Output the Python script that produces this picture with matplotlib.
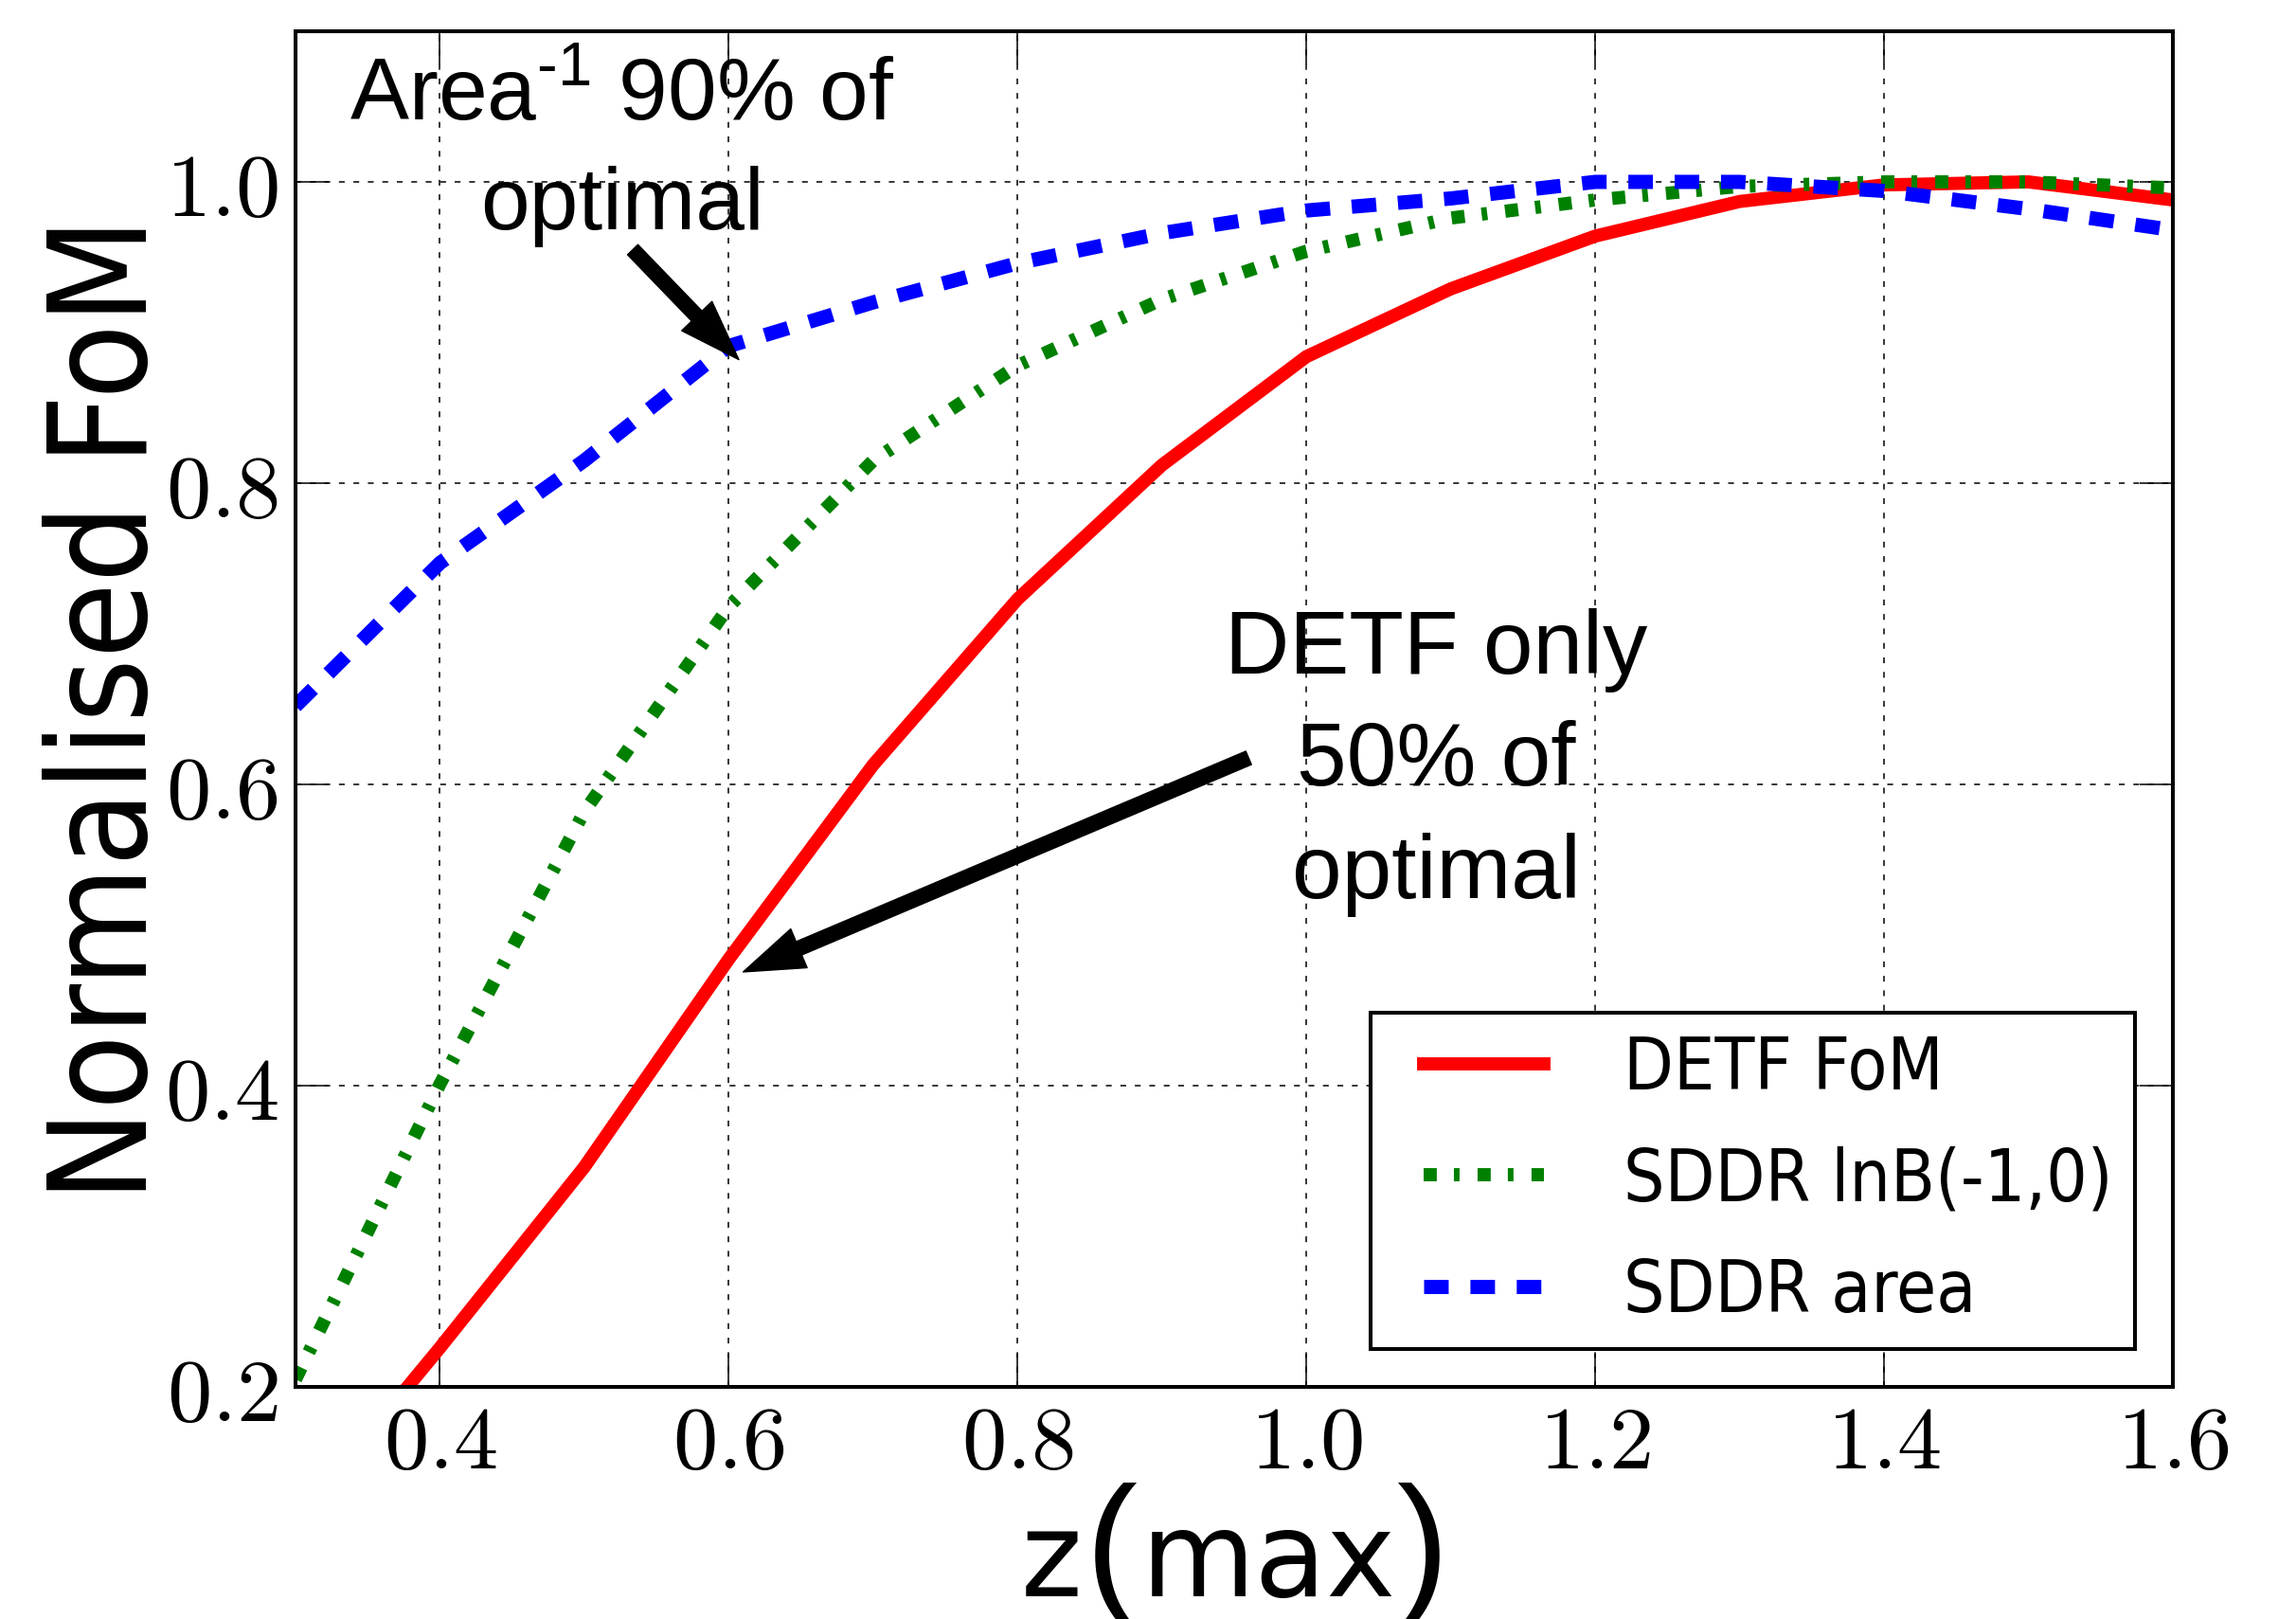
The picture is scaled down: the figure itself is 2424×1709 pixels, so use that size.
import matplotlib
matplotlib.use("Agg")
import matplotlib.pyplot as plt
from matplotlib.ticker import FuncFormatter
from matplotlib.font_manager import FontProperties
from matplotlib.legend_handler import HandlerLine2D

# data
zmax = [0.3, 0.4, 0.5, 0.6, 0.7, 0.8, 0.9, 1.0, 1.1, 1.2, 1.3, 1.4, 1.5, 1.6]
detf_fom = [0.11, 0.226, 0.346, 0.484, 0.613, 0.723, 0.812, 0.884, 0.929, 0.964, 0.987, 0.998, 1.0, 0.988]
sddr_lnb = [0.205, 0.401, 0.582, 0.718, 0.815, 0.878, 0.922, 0.954, 0.976, 0.988, 0.997, 1.0, 1.0, 0.996]
sddr_area = [0.652, 0.747, 0.815, 0.891, 0.920, 0.946, 0.966, 0.981, 0.989, 1.0, 1.0, 0.994, 0.982, 0.968]

xticks = [0.4, 0.6, 0.8, 1.0, 1.2, 1.4, 1.6]
yticks = [0.2, 0.4, 0.6, 0.8, 1.0]

plt.rcParams['mathtext.fontset'] = 'cm'
plt.rcParams['mathtext.rm'] = 'Liberation Sans'

cond = dict(family='DejaVu Sans', stretch='condensed')
W, H = 2424, 1709

fig = plt.figure(figsize=(W / 100, H / 100), dpi=100)
ax = fig.add_axes([312 / W, 1 - 1464 / H, (2294 - 312) / W, (1464 - 33) / H])

ax.plot(zmax, detf_fom, color='#ff0000', lw=10, label='DETF FoM')
ax.plot(zmax, sddr_lnb, color='#008000', lw=10, dashes=(1.0, 1.3, 0.43, 1.37),
        dash_capstyle='butt', label='SDDR lnB(-1,0)')
ax.plot(zmax, sddr_area, color='#0000ff', lw=10.8, dashes=(1.73, 1.53),
        dash_capstyle='butt', label='SDDR area')

ax.set_xlim(0.3, 1.6)
ax.set_ylim(0.2, 1.1)
ax.set_xticks(xticks)
ax.set_yticks(yticks)
fmt = FuncFormatter(lambda v, p: '$%.1f$' % v)
ax.xaxis.set_major_formatter(fmt)
ax.yaxis.set_major_formatter(fmt)
ax.tick_params(direction='in', length=25, width=1.1, labelsize=68,
               top=True, right=True)
ax.tick_params(axis='x', pad=10)
ax.tick_params(axis='y', pad=13)
ax.grid(True, color='black', lw=1.1, linestyle=(0, (4, 6)))
for s in ax.spines.values():
    s.set_linewidth(2.9)

ax.set_ylabel('Normalised FoM', fontsize=104, **cond)
ax.yaxis.set_label_coords(-0.064, 0.5)

# x label: z(max) with tall brackets
ybase = (H - 1685) / H
fig.text(1078 / W, ybase, 'z', fontsize=89, va='baseline', family='DejaVu Sans')
fig.text(1146 / W, ybase, '(', fontsize=119, va='baseline', family='Liberation Sans')
fig.text(1205 / W, ybase, 'max', fontsize=89, va='baseline', family='DejaVu Sans')
fig.text(1474 / W, ybase, ')', fontsize=119, va='baseline', family='Liberation Sans')

arrow = dict(facecolor='black', edgecolor='black', width=11, headwidth=32,
             headlength=46, shrink=0)
ax.annotate('', xy=(0.607, 0.882), xytext=(0.5335, 0.955), arrowprops=arrow)
ax.annotate('', xy=(0.610, 0.4755), xytext=(0.960, 0.6176), arrowprops=arrow)

ax.text(0.5263, 1.020, 'Area$^{\u2010\\mathrm{1}}$ 90% of\noptimal', ha='center', va='center',
        fontsize=67, linespacing=1.43, family='Liberation Sans', math_fontfamily='custom')
ax.text(1.09, 0.6145, 'DETF only\n50% of\noptimal', ha='center', va='center',
        fontsize=68, linespacing=1.43, family='Liberation Sans')

leg = ax.legend(loc='lower right', prop=FontProperties(size=55, **cond),
                fancybox=False, framealpha=1, edgecolor='black',
                borderaxespad=0.53, handlelength=2.1, handletextpad=1.1,
                labelspacing=0.57, borderpad=0.3,
                handler_map={matplotlib.lines.Line2D: HandlerLine2D(xpad=0.43)})
leg.get_frame().set_linewidth(2.9)

fig.savefig('out.png')
